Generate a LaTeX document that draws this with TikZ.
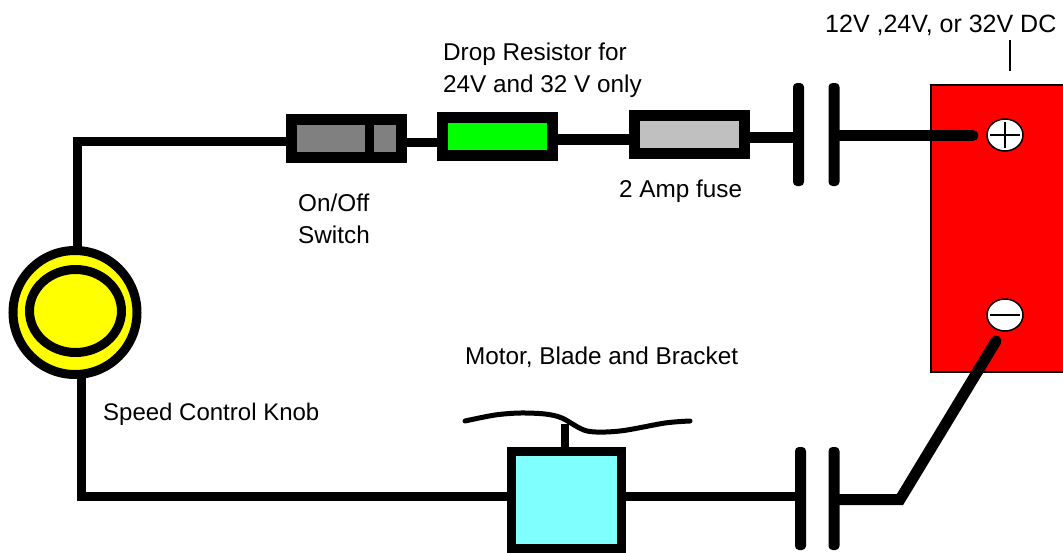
\documentclass[tikz,border=0pt]{standalone}
\usepackage{xcolor}
\usepackage{fontspec}
\usepackage{tikz}
\usetikzlibrary{shapes.geometric}
\setmainfont{Liberation Sans}
\definecolor{motorcyan}{HTML}{80FFFF}
\definecolor{fusegray}{HTML}{C0C0C0}
\definecolor{switchgray}{HTML}{808080}
\definecolor{knobyellow}{HTML}{FFFF00}
\definecolor{resistorgreen}{HTML}{00FF00}
\definecolor{batteryred}{HTML}{FF0000}
\tikzset{
    part/.style={draw=black,line width=11,inner sep=0,minimum width=110,minimum height=38},
    wire/.style={-,line width=11,black},
    plate/.style={fill=black,rounded corners=4,inner sep=0,minimum width=11,minimum height=103},
    terminal/.style={ellipse,draw=black,line width=1.5,fill=white,inner sep=0,minimum width=36,minimum height=32},
    label/.style={anchor=base west,inner sep=0,font=\fontsize{24.3}{24.3}\selectfont}
}
\begin{document}
\begin{tikzpicture}[x=1pt,y=-1pt]
    \useasboundingbox (0,0) rectangle (1063,552);

    \node[fill=batteryred,inner sep=0,minimum width=132,minimum height=287] (battery) at (997,228.5) {};
    \draw[-,line width=1.5] (battery.north east) -- (battery.north west) --
    (battery.south west) -- (battery.south east);
    \node[terminal] (plus) at (1005,135) {};
    \node[terminal] (minus) at (1005,315) {};
    \draw[-,line width=1.5,shorten >=4,shorten <=4] (plus.west) -- (plus.east);
    \draw[-,line width=1.5,shorten >=4,shorten <=4] (plus.north) -- (plus.south);
    \draw[-,line width=1.5,shorten >=4,shorten <=4] (minus.west) -- (minus.east);

    \node[part,fill=switchgray] (switch) at (346.5,138.5) {};
    \coordinate (divider) at (369.5,138.5);
    \draw[-,line width=9] (divider |- switch.north) -- (divider |- switch.south);
    \node[part,fill=resistorgreen] (resistor) at (497.5,136.5) {};
    \node[part,fill=fusegray] (fuse) at (689,134.5) {};
    \node[plate] (plateA) at (798.5,134.5) {};
    \node[plate] (plateB) at (834,134.5) {};
    \node[plate] (plateC) at (800.5,498.5) {};
    \node[plate] (plateD) at (834,498.5) {};

    \node[circle,draw=black,line width=9,fill=knobyellow,inner sep=0,minimum size=124] (knob) at (75,312.5) {};
    \node[ellipse,draw=black,line width=9,fill=knobyellow,inner sep=0,minimum width=92,minimum height=83] (dial) at (75.5,311) {};

    \node[draw=black,line width=9,fill=motorcyan,inner sep=0,minimum width=110,minimum height=97] (motor) at (566.5,499.5) {};

    \coordinate (knobTop) at (77,250);
    \coordinate (knobBottom) at (81,375);
    \coordinate (switchIn) at (290,141.5);
    \coordinate (switchOut) at (404,142);
    \coordinate (resistorIn) at (441,142);
    \coordinate (resistorOut) at (554,139.5);
    \coordinate (fuseIn) at (632,139.5);
    \coordinate (fuseOut) at (746,137);
    \coordinate (plateOut) at (838,135.5);
    \coordinate (plusEnd) at (973,135.5);
    \coordinate (motorIn) at (511,496);
    \coordinate (motorOut) at (622,496);
    \coordinate (plateDOut) at (838,499.5);
    \coordinate (bend) at (900,499.5);
    \coordinate (minusEnd) at (996,341);
    \coordinate (stemTop) at (565,424);

    \draw[wire,line width=9] (switchIn) -| (knobTop);
    \draw[wire,line width=9] (knobBottom) |- (motorIn);
    \draw[wire,line width=9] (switchOut) -- (resistorIn);
    \draw[wire] (resistorOut) -- (fuseIn);
    \draw[wire] (fuseOut) -- (fuseOut -| plateA);
    \draw[wire,line cap=round] (plateOut) -- (plusEnd);
    \draw[wire,line width=9] (motorOut) -- (motorOut -| plateC);
    \draw[wire,line cap=round] (plateDOut) -- (bend) -- (minusEnd);
    \draw[-,line width=8] (motor.north -| stemTop) -- (stemTop);
    \draw[-,line width=5,line cap=round] plot[smooth] coordinates {(465,421) (495,415)
    (520,413) (545,414) (562,418) (587,431) (620,431) (665,423) (690,421)};

    \coordinate (tickTop) at (1010,40);
    \coordinate (tickBottom) at (1010,71);
    \draw[-,line width=1.5] (tickTop) -- (tickBottom);

    \node[label,font=\fontsize{25}{25}\selectfont] (supply) at (825,32) {12V ,24V, or 32V DC};
    \node[label] (dropA) at (443,60) {Drop Resistor for};
    \node[label] (dropB) at (443,92) {24V and 32 V only};
    \node[label] (fuselabel) at (619,197) {2 Amp fuse};
    \node[label] (switchA) at (298,211) {On/Off};
    \node[label] (switchB) at (298,243) {Switch};
    \node[label,font=\fontsize{24}{24}\selectfont] (knoblabel) at (103,420) {Speed Control Knob};
    \node[label] (motorlabel) at (465,364) {Motor, Blade and Bracket};
\end{tikzpicture}
\end{document}
